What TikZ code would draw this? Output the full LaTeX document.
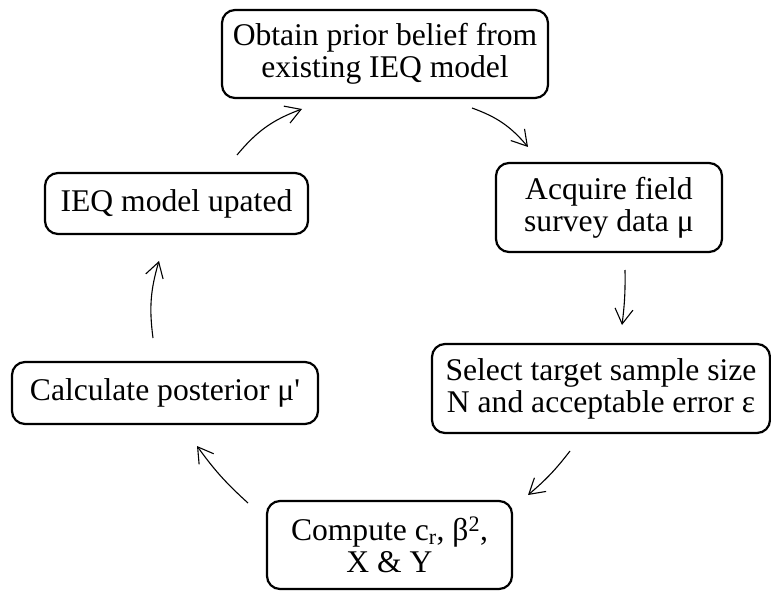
\documentclass[tikz,border=0pt]{standalone}
\usepackage{fontspec}
\newfontfamily\tnr{Liberation Serif}
\usetikzlibrary{arrows.meta}
\begin{document}
\begin{tikzpicture}[x=1pt,y=1pt,
  box/.style={draw, line width=2.2pt, rounded corners=13pt, align=center,
    inner sep=0pt, font=\tnr\fontsize{31.6}{32}\selectfont},
  flow/.style={line width=1.1pt,
    -{Straight Barb[length=15pt,width=18pt,line width=1.1pt]}}]
\useasboundingbox (0,0) rectangle (771,590);
\node[box, minimum width=326pt, minimum height=88pt] (top) at (385,536)
  {Obtain prior belief from\\existing IEQ model};
\node[box, minimum width=226pt, minimum height=89pt] (acq) at (609,382.5)
  {Acquire field\\survey data μ};
\node[box, minimum width=338pt, minimum height=89pt] (sel) at (601,201.5)
  {Select target sample size\\N and acceptable error ε};
\node[box, minimum width=245pt, minimum height=88pt] (comp) at (389.5,45)
  {Compute c\textsubscript{r}, β\textsuperscript{2},\\X \& Y};
\node[box, minimum width=306pt, minimum height=62pt] (calc) at (165,197)
  {Calculate posterior μ'};
\node[box, minimum width=263pt, minimum height=61pt] (ieq) at (176.5,386.5)
  {IEQ model upated};
% arrow end points
\coordinate (a1s) at (237,435); \coordinate (a1e) at (302,481);
\coordinate (a2s) at (472,482); \coordinate (a2e) at (528,443);
\coordinate (a3s) at (625,320); \coordinate (a3e) at (622,265);
\coordinate (a4s) at (570,139); \coordinate (a4e) at (528,95);
\coordinate (a5s) at (248,87);  \coordinate (a5e) at (197,144);
\coordinate (a6s) at (153,252); \coordinate (a6e) at (159,329);
\draw[flow] (a1s) to[bend left=15] (a1e);
\draw[flow] (a2s) to[bend left=15] (a2e);
\draw[flow] (a3s) to[bend left=4] (a3e);
\draw[flow] (a4s) to[bend left=6] (a4e);
\draw[flow] (a5s) to[bend left=6] (a5e);
\draw[flow] (a6s) to[bend left=12] (a6e);
\end{tikzpicture}
\end{document}
